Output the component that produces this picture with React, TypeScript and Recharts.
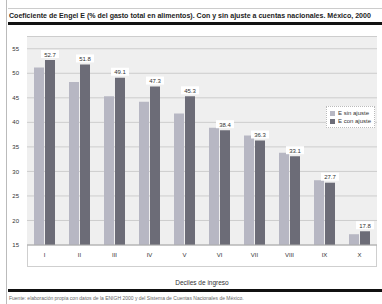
import { Bar, BarChart, CartesianGrid, LabelList, Legend, XAxis, YAxis } from 'recharts'

const deciles = ['I', 'II', 'III', 'IV', 'V', 'VI', 'VII', 'VIII', 'IX', 'X']
const sinAjuste = [51.2, 48.2, 45.3, 44.2, 41.8, 38.9, 37.3, 33.8, 28.2, 17.2]
const conAjuste = [52.7, 51.8, 49.1, 47.3, 45.3, 38.4, 36.3, 33.1, 27.7, 17.8]
const yTicks = [15, 20, 25, 30, 35, 40, 45, 50, 55]

const data = deciles.map((d, i) => ({ decil: d, sin: sinAjuste[i], con: conAjuste[i] }))

const LIGHT = '#b7b7c3'
const DARK = '#6c6c77'
const font = '"Liberation Sans", Arial, sans-serif'

function ValueLabel(props: any) {
  const { x, y, width, value } = props
  const cx = x + width / 2
  return (
    <g>
      <rect x={cx - 9} y={y - 10} width={18} height={8} fill="#fff" />
      <text x={cx} y={y - 3.5} textAnchor="middle" fontSize={6} fill="#333" fontFamily={font}>
        {Number(value).toFixed(1)}
      </text>
    </g>
  )
}

function LegendBox() {
  const row = (color: string, text: string) => (
    <div style={{ display: 'flex', alignItems: 'center', gap: 3, height: 8 }}>
      <span style={{ width: 5, height: 5, background: color, display: 'inline-block' }} />
      <span>{text}</span>
    </div>
  )
  return (
    <div style={{ background: '#fff', padding: '2px 3px', fontSize: 6, color: '#333', fontFamily: font, border: '1px dotted #bbb' }}>
      {row(LIGHT, 'E sin ajuste')}
      {row(DARK, 'E con ajuste')}
    </div>
  )
}

export default function App() {
  return (
    <div style={{ position: 'absolute', left: 0, top: 0, width: 382, height: 304, background: '#fff', overflow: 'hidden', fontFamily: font }}>
      <div style={{ position: 'absolute', left: 6, top: 0, width: 1, height: 304, background: '#bbb' }} />
      <div style={{ position: 'absolute', left: 8, top: 8, width: 374, height: 1, background: '#ccc' }} />
      <div style={{ position: 'absolute', left: 9, top: 12, width: 372, whiteSpace: 'nowrap', fontSize: 7.05, fontWeight: 'bold', color: '#222' }}>
        Coeficiente de Engel E (% del gasto total en alimentos). Con y sin ajuste a cuentas nacionales. México, 2000
      </div>
      <div style={{ position: 'absolute', left: 8, top: 22, width: 374, height: 3, background: '#111' }} />
      <div style={{ position: 'absolute', left: 27, top: 36, width: 350, height: 231, border: '1px solid #cfcfcf', boxSizing: 'border-box' }} />
      <BarChart
        width={382}
        height={304}
        data={data}
        margin={{ top: 36.5, right: 5, left: 0, bottom: 13 }}
        barCategoryGap="20%"
        barGap={1}
        style={{ position: 'absolute', left: 0, top: 0 }}
      >
        <CartesianGrid vertical={false} fill="#efefef" stroke="#cdcdcd" />
        <XAxis
          dataKey="decil"
          height={24}
          tickLine={false}
          axisLine={{ stroke: '#aaa' }}
          tick={{ fontSize: 6, fill: '#333', fontFamily: font }}
          interval={0}
        />
        <YAxis
          width={27}
          domain={[15, 57.5]}
          ticks={yTicks}
          tickLine={false}
          axisLine={false}
          tick={{ fontSize: 6, fill: '#333', fontFamily: font }}
        />
        <Legend
          content={() => <LegendBox />}
          wrapperStyle={{ position: 'absolute', left: 326, top: 106, width: 'auto' }}
        />
        <Bar name="E sin ajuste" dataKey="sin" fill={LIGHT} isAnimationActive={false} />
        <Bar name="E con ajuste" dataKey="con" fill={DARK} isAnimationActive={false}>
          <LabelList dataKey="con" content={ValueLabel} />
        </Bar>
      </BarChart>
      <div style={{ position: 'absolute', left: 0, width: 404, top: 279, textAlign: 'center', fontSize: 6.5, color: '#333' }}>
        Deciles de ingreso
      </div>
      <div style={{ position: 'absolute', left: 8, top: 289, width: 374, height: 3, background: '#111' }} />
      <div style={{ position: 'absolute', left: 9, top: 295, whiteSpace: 'nowrap', fontSize: 5, color: '#666' }}>
        Fuente: elaboración propia con datos de la ENIGH 2000 y del Sistema de Cuentas Nacionales de México.
      </div>
    </div>
  )
}
